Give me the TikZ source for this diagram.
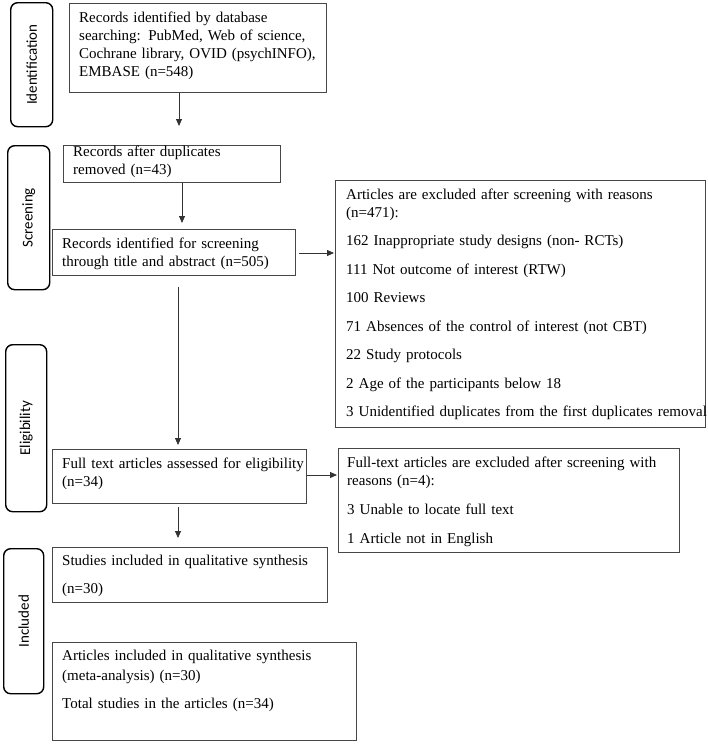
\documentclass[tikz,border=0pt]{standalone}
\usepackage{fontspec}
\setmainfont{Liberation Serif}
\newfontfamily\sidefont{Carlito}
\usetikzlibrary{arrows.meta}
\begin{document}
\begin{tikzpicture}[x=1pt,y=-1pt,
  box/.style={draw=black!72, line width=0.9pt, inner sep=0pt, anchor=north west},
  stage/.style={draw=black, line width=1.4pt, rounded corners=7pt, inner sep=0pt, anchor=north west},
  stagetext/.style={font=\sidefont\fontsize{15}{18}\selectfont, rotate=90, inner sep=0pt},
  txt/.style={anchor=north west, inner sep=0pt, align=left, text width=400pt, font=\fontsize{15}{18}\selectfont},
  arr/.style={draw=black!80, line width=0.8pt, -{Triangle[length=7pt,width=6pt]}}]
\useasboundingbox[fill=white] (0,0) rectangle (708,744);

% stage labels
\node[stage, minimum width=42pt, minimum height=124pt] (s1) at (10,2) {};
\node[stage, minimum width=42pt, minimum height=144pt] (s2) at (7,145) {};
\node[stage, minimum width=41pt, minimum height=167pt] (s3) at (5,344) {};
\node[stage, minimum width=40pt, minimum height=145pt] (s4) at (3,548) {};
\node[stagetext] (t1) at (s1.center) {Identification};
\node[stagetext] (t2) at (s2.center) {Screening};
\node[stagetext] (t3) at (s3.center) {Eligibility};
\node[stagetext] (t4) at (s4.center) {Included};

% boxes
\node[box, minimum width=257pt, minimum height=89pt] (b1) at (69,3) {};
\node[box, minimum width=217pt, minimum height=37pt] (b2) at (63,145) {};
\node[box, minimum width=243pt, minimum height=46pt] (b3) at (52,229) {};
\node[box, minimum width=370pt, minimum height=247pt] (b4) at (335,180) {};
\node[box, minimum width=254pt, minimum height=54pt] (b5) at (52,449) {};
\node[box, minimum width=341pt, minimum height=104pt] (b6) at (338,448) {};
\node[box, minimum width=275pt, minimum height=55pt] (b7) at (52,547) {};
\node[box, minimum width=304pt, minimum height=98pt] (b8) at (52,642) {};

% texts
\node[txt] (x1) at (79,9.4) {\strut Records identified by database\\searching: PubMed, Web of science,\\Cochrane library, OVID (psychINFO),\\EMBASE (n=548)};
\node[txt] (x2) at (73,143.4) {\strut Records after duplicates\\removed (n=43)};
\node[txt] (x3) at (62,235.4) {\strut Records identified for screening\\through title and abstract (n=505)};
\node[txt] (x4) at (346,186.4) {\strut Articles are excluded after screening with reasons\\(n=471):\\[10.5pt]162 Inappropriate study designs (non- RCTs)\\[10.5pt]111 Not outcome of interest (RTW)\\[10.5pt]100 Reviews\\[10.5pt]71 Absences of the control of interest (not CBT)\\[10.5pt]22 Study protocols\\[10.5pt]2 Age of the participants below 18\\[10.5pt]3 Unidentified duplicates from the first duplicates removal};
\node[txt] (x5) at (62,455.4) {\strut Full text articles assessed for eligibility\\(n=34)};
\node[txt] (x6) at (347,454.4) {\strut Full-text articles are excluded after screening with\\reasons (n=4):\\[11pt]3 Unable to locate full text\\[11pt]1 Article not in English};
\node[txt] (x7) at (62,552.4) {\strut Studies included in qualitative synthesis\\[10pt](n=30)};
\node[txt] (x8) at (62,647.4) {\strut Articles included in qualitative synthesis\\[2pt](meta-analysis) (n=30)\\[10pt]Total studies in the articles (n=34)};

% connectors
\coordinate (c1) at (179,0);
\coordinate (c2) at (182,0);
\coordinate (c3) at (178,0);
\coordinate (r1) at (0,253);
\coordinate (r2) at (0,475);
\draw[arr, shorten >=19pt] (b1.south -| c1) -- (b2.north -| c1);
\draw[arr, shorten >=6pt] (b2.south -| c2) -- (b3.north -| c2);
\draw[arr, shorten <=3pt, shorten >=1pt] (b3.east |- r1) -- (b4.west |- r1);
\draw[arr, shorten <=11pt, shorten >=4pt] (b3.south -| c3) -- (b5.north -| c3);
\draw[arr, shorten >=1pt] (b5.east |- r2) -- (b6.west |- r2);
\draw[arr, shorten <=3pt, shorten >=9pt] (b5.south -| c3) -- (b7.north -| c3);
\end{tikzpicture}
\end{document}
